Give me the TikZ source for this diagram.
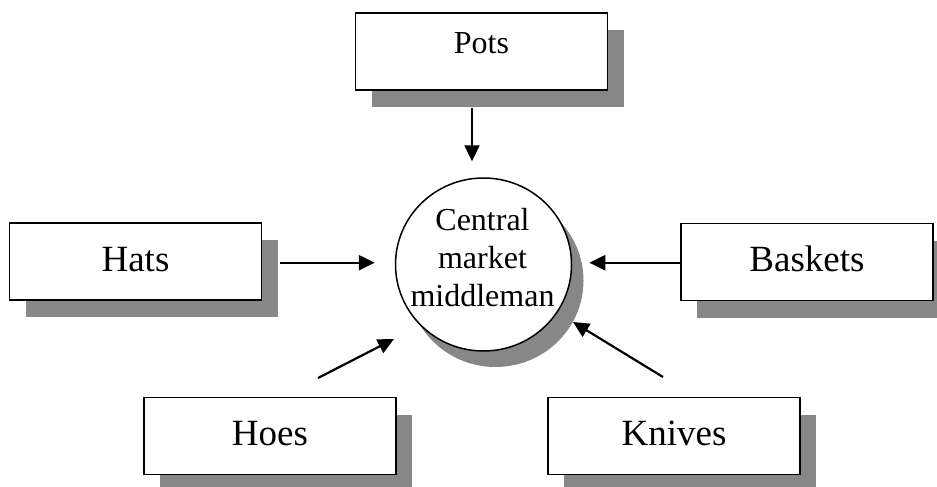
\documentclass[tikz,border=0pt]{standalone}
\usepackage{fontspec}
\setmainfont{Liberation Serif}
\usetikzlibrary{shapes.geometric,shadows,arrows.meta}
\begin{document}
\begin{tikzpicture}[x=1pt,y=-1pt,
  sourcebox/.style={draw=black, line width=1.8pt, fill=white,
    minimum width=252pt, minimum height=77pt, inner sep=0pt,
    font=\fontsize{37}{40}\selectfont, text height=27pt, text depth=8pt,
    drop shadow={shadow xshift=16pt, shadow yshift=-17pt, fill=black!47, opacity=1}},
  hub/.style={ellipse, draw=black, line width=1.5pt, fill=white,
    minimum width=176pt, minimum height=173pt, inner sep=0pt,
    drop shadow={shadow xshift=12pt, shadow yshift=-16pt, fill=black!47, opacity=1}},
  hubtext/.style={align=center, inner sep=0pt, font=\fontsize{32}{38}\selectfont},
  feed/.style={-{Triangle[length=16pt,width=15pt]}, line width=2.2pt}
]
\useasboundingbox (0,0) rectangle (937,487);

% central hub
\node[hub] (mid) at (483.5,264.5) {};
\node[hubtext] (midtext) at (482.5,258) {Central\\market\\middleman};

% suppliers
\node[sourcebox, font=\fontsize{32}{34}\selectfont, text height=22pt, text depth=17pt] (pots) at (481.5,51.5) {Pots};
\node[sourcebox] (hats) at (135.5,261.5) {Hats};
\node[sourcebox] (baskets) at (807,262) {Baskets};
\node[sourcebox] (hoes) at (270,436) {Hoes};
\node[sourcebox] (knives) at (674,436) {Knives};

% flows into the hub (horizontal ones level with y = 262.7)
\draw[feed, shorten <=17pt, shorten >=16pt] ([xshift=-9.5pt]pots.south) -- ([xshift=-11.5pt]mid.north);
\draw[feed, shorten <=18pt, shorten >=20pt] ([yshift=-1.2pt]hats.east) -- ([yshift=1.8pt]mid.west);
\draw[feed, shorten >=17pt] ([yshift=-0.7pt]baskets.west) -- ([yshift=1.8pt]mid.east);
\coordinate (hoesOut) at (318,378);
\coordinate (hoesIn) at (394,339);
\draw[feed] (hoesOut) -- (hoesIn);
\coordinate (knivesOut) at (663,377);
\coordinate (knivesIn) at (573,322);
\draw[feed] (knivesOut) -- (knivesIn);
\end{tikzpicture}
\end{document}
